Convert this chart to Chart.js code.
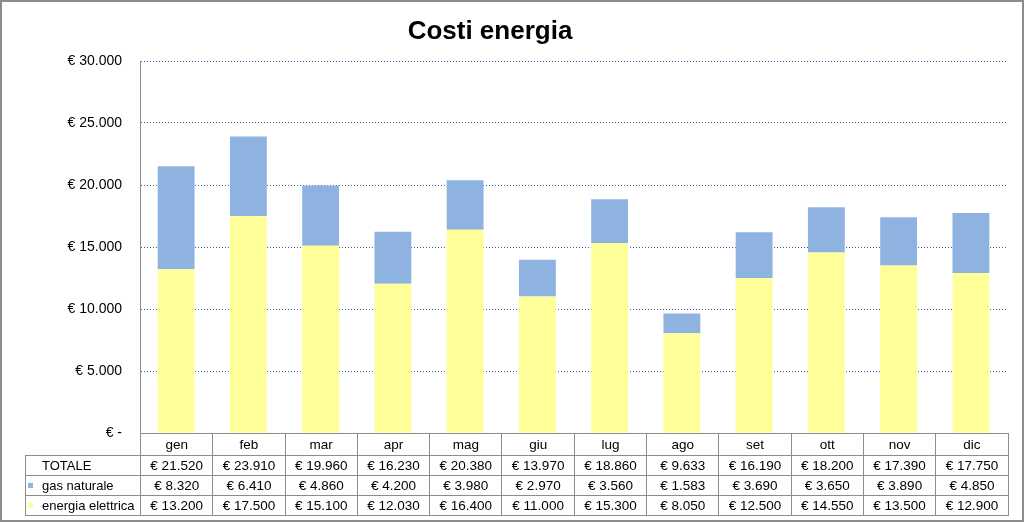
<!DOCTYPE html>
<html>
<head>
<meta charset="utf-8">
<script src="https://cdn.jsdelivr.net/npm/chart.js"></script>
<style>
  html, body { margin: 0; padding: 0; background: #fff; }
  #wrap { position: relative; width: 1024px; height: 522px; overflow: hidden; font-family: "Liberation Sans", Arial, sans-serif; }
  #frame { position: absolute; left: 0; top: 0; width: 1020px; height: 518px; border: 2px solid #8c8c8c; pointer-events: none; }
  #title { position: absolute; left: 0; width: 980px; top: 15px; text-align: center; font-size: 26px; font-weight: bold; color: #000; }
  canvas { position: absolute; left: 0; top: 0; }
  table { position: absolute; left: 25px; top: 433px; border-collapse: collapse; font-size: 13.5px; color: #000; }
  td { border: 1px solid #8c8c8c; padding: 0; text-align: center; height: 19px; width: 71.3px; white-space: nowrap; }
  tr.head td { height: 21px; }
  td.lbl { width: 114px; text-align: left; padding-left: 0; font-size: 13px; }
  td.blank { border: none; }
  .key { display: inline-block; width: 5px; height: 5px; margin: 0 9px 2px 2px; vertical-align: middle; }
  .nokey { display: inline-block; width: 16px; }
</style>
</head>
<body>
<div id="wrap">
  <canvas id="chart" width="1024" height="522"></canvas>
  <div id="title">Costi energia</div>
  <table id="tbl"></table>
  <div id="frame"></div>
</div>
<script>
// mesi e costi (euro)
const months = ['gen', 'feb', 'mar', 'apr', 'mag', 'giu', 'lug', 'ago', 'set', 'ott', 'nov', 'dic'];
const gasNaturale = [8320, 6410, 4860, 4200, 3980, 2970, 3560, 1583, 3690, 3650, 3890, 4850];
const energiaElettrica = [13200, 17500, 15100, 12030, 16400, 11000, 15300, 8050, 12500, 14550, 13500, 12900];
const totale = [21520, 23910, 19960, 16230, 20380, 13970, 18860, 9633, 16190, 18200, 17390, 17750];

const YELLOW = '#FFFF99';
const BLUE = '#8EB3E1';

function euro(v) {
  if (v === 0) return '€ -';
  return '€ ' + v.toString().replace(/\B(?=(\d{3})+(?!\d))/g, '.');
}

// data table under the plot
const tbl = document.getElementById('tbl');
let html = '<tr class="head"><td class="blank lbl"></td>' + months.map(m => `<td>${m}</td>`).join('') + '</tr>';
html += '<tr><td class="lbl"><span class="nokey"></span>TOTALE</td>' + totale.map(v => `<td>${euro(v)}</td>`).join('') + '</tr>';
html += `<tr><td class="lbl"><span class="key" style="background:${BLUE}"></span>gas naturale</td>` + gasNaturale.map(v => `<td>${euro(v)}</td>`).join('') + '</tr>';
html += `<tr><td class="lbl"><span class="key" style="background:${YELLOW}"></span>energia elettrica</td>` + energiaElettrica.map(v => `<td>${euro(v)}</td>`).join('') + '</tr>';
tbl.innerHTML = html;

new Chart(document.getElementById('chart'), {
  type: 'bar',
  data: {
    labels: months,
    datasets: [
      { label: 'energia elettrica', data: energiaElettrica, backgroundColor: YELLOW },
      { label: 'gas naturale', data: gasNaturale, backgroundColor: BLUE }
    ]
  },
  options: {
    responsive: false,
    animation: false,
    layout: { padding: { top: 61, bottom: 89, left: 0, right: 17 } },
    plugins: { legend: { display: false }, tooltip: { enabled: false } },
    datasets: { bar: { barPercentage: 0.51, categoryPercentage: 1.0 } },
    scales: {
      x: { stacked: true, display: false },
      y: {
        stacked: true,
        min: 0,
        max: 30000,
        afterFit: s => { s.width = 140; },
        ticks: {
          stepSize: 5000,
          padding: 18,
          color: '#000',
          font: { family: '"Liberation Sans", Arial, sans-serif', size: 14 },
          callback: v => euro(v)
        },
        grid: {
          color: '#3A62A8',
          lineWidth: 1,
          drawTicks: false
        },
        border: { display: true, color: '#8c8c8c', width: 1, dash: [1, 2] }
      }
    }
  }
});
</script>
</body>
</html>
